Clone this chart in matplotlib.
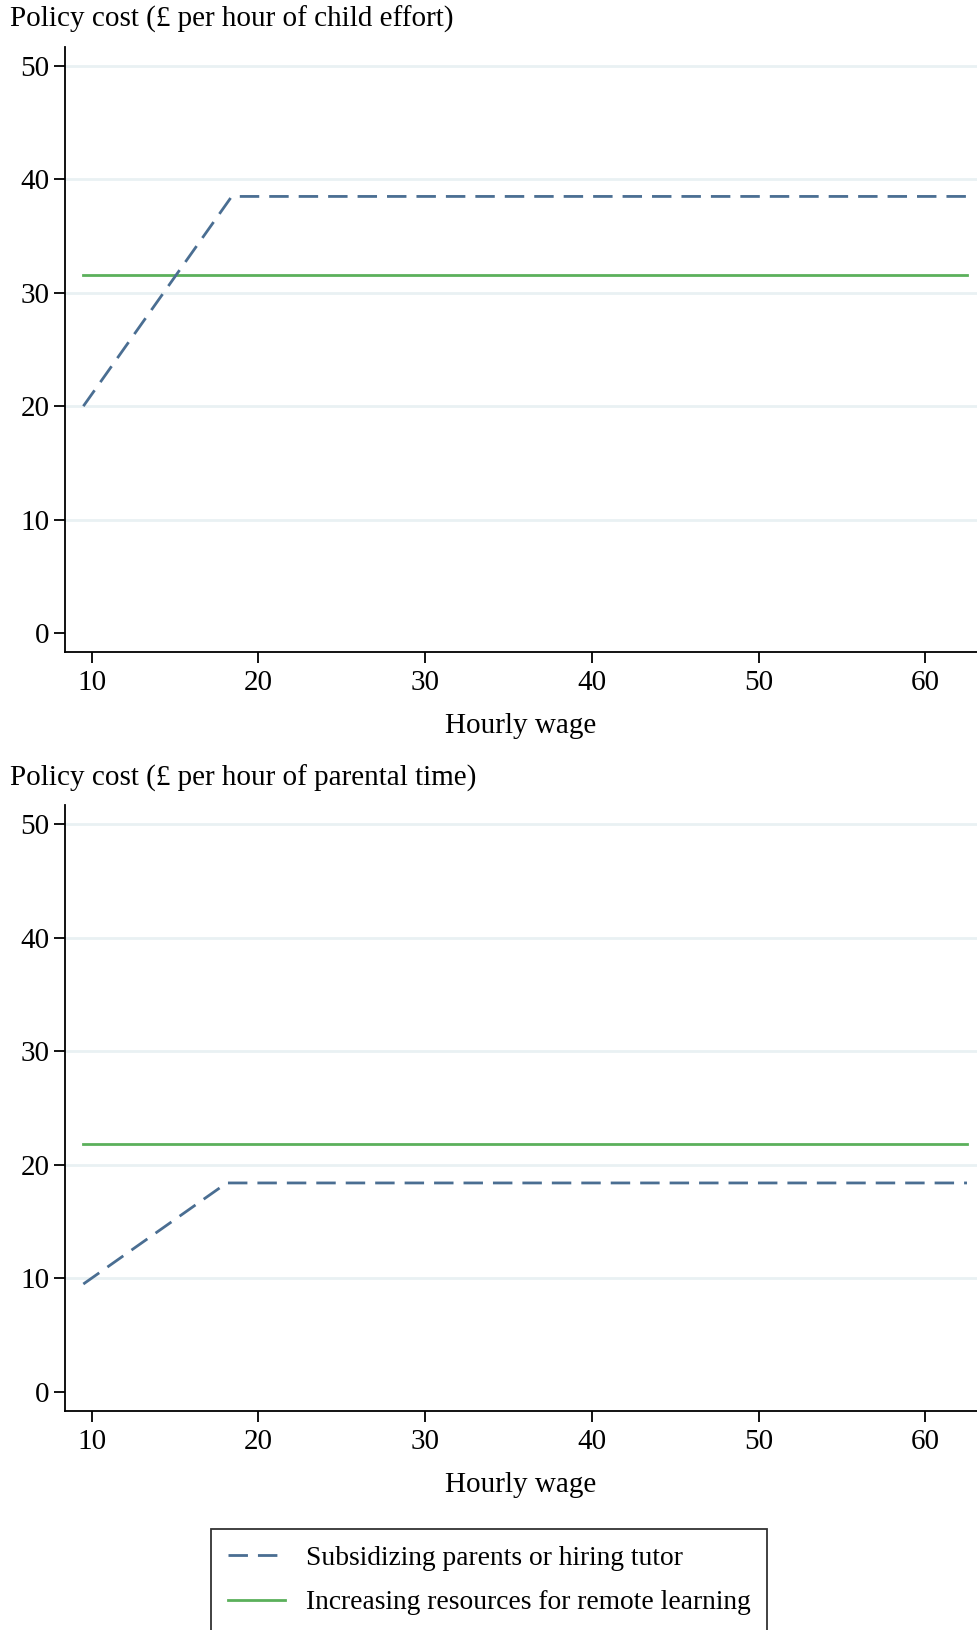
import matplotlib
matplotlib.use("Agg")
import matplotlib.pyplot as plt
from matplotlib.lines import Line2D

plt.rcParams['font.family'] = ['Liberation Serif', 'DejaVu Serif']

# Data
wage_tutor = [9.5, 18.4, 62.5]
child_tutor = [20.0, 38.5, 38.5]
wage_tutor_par = [9.5, 18.1, 62.5]
parent_tutor = [9.5, 18.4, 18.4]
wage_remote = [9.5, 62.5]
child_remote = [31.6, 31.6]
parent_remote = [21.8, 21.8]

yticks = [0, 10, 20, 30, 40, 50]
xticks = [10, 20, 30, 40, 50, 60]
titles = ["Policy cost (£ per hour of child effort)",
          "Policy cost (£ per hour of parental time)"]
xlabel = "Hourly wage"
leg_labels = ["Subsidizing parents or hiring tutor",
              "Increasing resources for remote learning"]

W, H = 977, 1630
fig = plt.figure(figsize=(W / 100, H / 100), dpi=100)

blue = '#4a6e92'
green = '#5bb05b'
grid_c = '#e9f1f3'
fs = 21
lfs = 19.8

def make_ax(top_px, bot_px):
    left = 65 / W
    ax = fig.add_axes([left, 1 - bot_px / H, 1 - left, (bot_px - top_px) / H])
    return ax

panels = [
    (47, 652, wage_tutor, child_tutor, child_remote, titles[0], 19),
    (805, 1411, wage_tutor_par, parent_tutor, parent_remote, titles[1], 778),
]
for top, bot, xw, yt, yr, title, ty in panels:
    ax = make_ax(top, bot)
    ax.set_xlim(8.4, 63.1)
    ax.set_ylim(-1.68, 51.68)
    for yv in yticks[1:]:
        ax.axhline(yv, color=grid_c, lw=2.0, zorder=0)
    ax.plot(xw, yt, color=blue, lw=2.0, dashes=(7, 3.6), solid_capstyle='butt',
            dash_capstyle='butt', zorder=3)
    ax.plot(wage_remote, yr, color=green, lw=2.0, zorder=2)
    ax.set_yticks(yticks)
    ax.set_xticks(xticks)
    ax.tick_params(axis='both', labelsize=fs, length=8, width=1.3, direction='out',
                   colors='black', pad=3)
    ax.tick_params(axis='x', pad=5)
    ax.spines['top'].set_visible(False)
    ax.spines['right'].set_visible(False)
    for s in ['left', 'bottom']:
        ax.spines[s].set_linewidth(1.3)
    ax.set_xlabel(xlabel, fontsize=fs, labelpad=12)
    fig.text(10 / W, 1 - ty / H, title, fontsize=fs, va='center', ha='left')

handles = [Line2D([], [], color=blue, lw=2.0, dashes=(7, 3.6)),
           Line2D([], [], color=green, lw=2.0)]
leg = fig.legend(handles, leg_labels, loc='upper left',
                 bbox_to_anchor=(211 / W, 1 - 1529 / H), fontsize=lfs,
                 frameon=True, fancybox=False, edgecolor='black',
                 handlelength=2.1, handletextpad=0.75, labelspacing=0.7,
                 borderpad=0.6, borderaxespad=0)
leg.get_frame().set_linewidth(1.3)

fig.savefig("out.png", dpi=100)
